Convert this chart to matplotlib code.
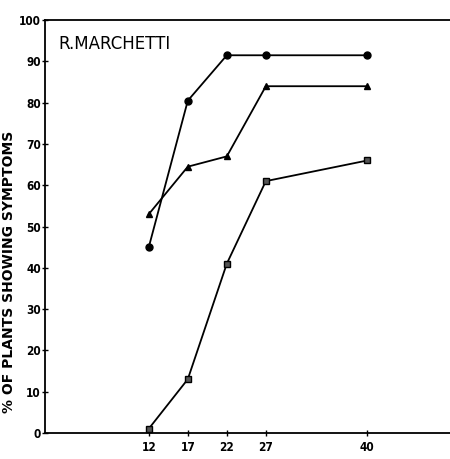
import matplotlib
matplotlib.use("Agg")
import matplotlib.pyplot as plt

# days after inoculation
days = [12, 17, 22, 27, 40]

# % of plants showing symptoms, one list per series
circles = [45, 80.5, 91.5, 91.5, 91.5]
triangles = [53, 64.5, 67, 84, 84]
squares = [1, 13, 41, 61, 66]

yticks = [0, 10, 20, 30, 40, 50, 60, 70, 80, 90, 100]

fig = plt.figure(figsize=(4.5, 4.59), dpi=100)
ax = fig.add_axes([0.1, 0.057, 0.9, 0.899])

ax.plot(days, circles, color="black", lw=1.3, marker="o", ms=5)
ax.plot(days, triangles, color="black", lw=1.3, marker="^", ms=5)
ax.plot(days, squares, color="black", lw=1.3, marker="s", ms=5,
        markerfacecolor="#555555")

ax.set_xlim(-1.3, 50.6)
ax.set_ylim(0, 100)
ax.set_xticks(days)
ax.set_yticks(yticks)

for s in ["left", "bottom", "top"]:
    ax.spines[s].set_linewidth(1.3)
ax.spines["right"].set_visible(False)

ax.tick_params(axis="both", direction="inout", length=4, width=1,
               labelsize=8.5)
ax.tick_params(axis="x", pad=4)
ax.tick_params(axis="y", pad=1)
for lab in ax.get_xticklabels() + ax.get_yticklabels():
    lab.set_fontweight("bold")
    lab.set_fontstretch("condensed")

ax.set_ylabel("% OF PLANTS SHOWING SYMPTOMS", fontsize=10,
              fontweight="bold")
ax.yaxis.set_label_coords(-0.072, 0.39)
ax.text(0.032, 0.965, "R.MARCHETTI", transform=ax.transAxes, fontsize=12,
        va="top", ha="left")

fig.savefig("out.png", dpi=100)
